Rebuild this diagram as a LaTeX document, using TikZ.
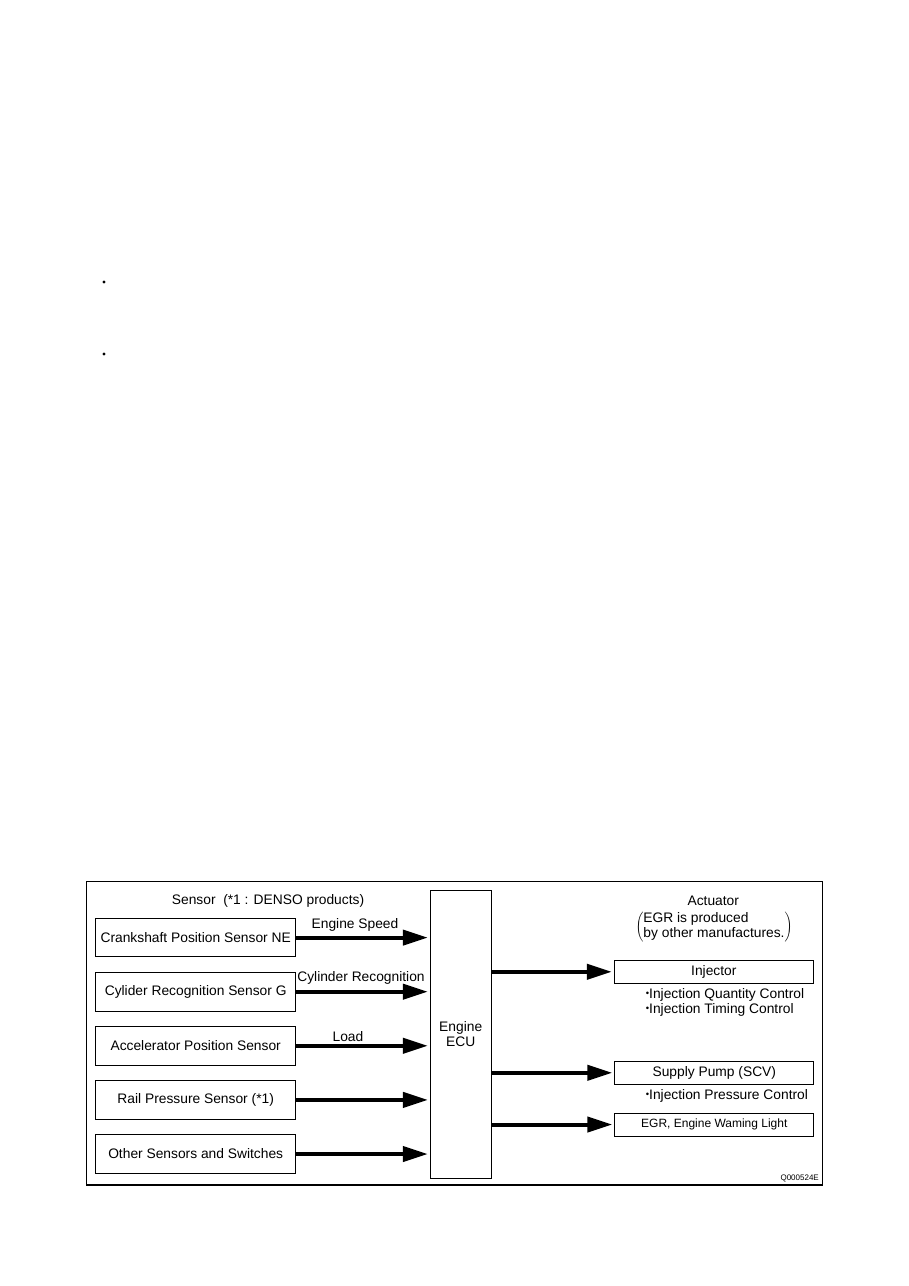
\documentclass[tikz,border=0pt]{standalone}
\usepackage{fontspec}
\setmainfont{Liberation Sans}
\usetikzlibrary{positioning, arrows.meta}

\newcommand{\bul}{\raisebox{1.8pt}{\fontsize{9.5}{9.5}\selectfont •}}

\begin{document}
\begin{tikzpicture}[
            x=1pt, y=-1pt,
            font=\fontsize{13.8}{15}\selectfont,
            node distance=14.6pt,
            sensor/.style={rectangle, draw, line width=0.9pt, minimum width=200pt, minimum height=38.6pt, inner sep=2pt, align=center},
            actor/.style={rectangle, draw, line width=0.9pt, minimum width=199pt, minimum height=23pt, inner sep=2pt, align=center},
            arrow/.style={-{Triangle[length=25pt, width=15pt]}, line width=4pt, shorten >=2pt}
        ]
        \useasboundingbox (0,0) rectangle (909,1286);
        \fill (104,282) circle (1.6pt);
        \fill (104,354) circle (1.6pt);
        \draw[line width=1.1pt] (86.5,881.5) rectangle (822.5,1185);
        % sensors
        \node (sensorhead) at (268,900.5) {Sensor\ \ (*1 : DENSO products)};
        \node[sensor] (crank) at (195.7,937.6) {Crankshaft Position Sensor NE};
        \node[sensor, below=of crank] (cyl) {Cylider Recognition Sensor G};
        \node[sensor, below=of cyl] (accel) {Accelerator Position Sensor};
        \node[sensor, below=of accel] (rail) {Rail Pressure Sensor (*1)};
        \node[sensor, below=of rail] (other) {Other Sensors and Switches};
        % ecu
        \node[rectangle, draw, line width=0.9pt, minimum width=60.7pt, minimum height=288pt, align=center] (ecu) at (460.7,1034.3) {Engine\\ECU};
        \draw[arrow] (crank.east) -- (crank.east -| ecu.west);
        \draw[arrow] (cyl.east) -- (cyl.east -| ecu.west);
        \draw[arrow] (accel.east) -- (accel.east -| ecu.west);
        \draw[arrow] (rail.east) -- (rail.east -| ecu.west);
        \draw[arrow] (other.east) -- (other.east -| ecu.west);
        \node (speed) at (355,924.5) {Engine Speed};
        \node (cylrec) at (361,977.5) {Cylinder Recognition};
        \node (load) at (348,1036.5) {Load};
        % actuators
        \node (acthead) at (713.3,900.5) {Actuator};
        \node[inner sep=0] (note) at (714,927) {$\left(\fontsize{13.8}{14}\selectfont\begin{tabular}{@{}l@{}}EGR is produced\\by other manufactures.\end{tabular}\right)$};
        \node[actor] (inj) at (713.8,971.8) {Injector};
        \node[actor] (pump) at (714.3,1072.8) {Supply Pump (SCV)};
        \node[actor, font=\fontsize{12}{14}\selectfont] (egr) at (714.3,1124.5) {EGR, Engine Waming Light};
        \node[anchor=west, align=left, inner sep=0] (injctl) at (645.7,1002) {\bul Injection Quantity Control\\\bul Injection Timing Control};
        \node[anchor=west, inner sep=0] (pumpctl) at (645.7,1096) {\bul Injection Pressure Control};
        \draw[arrow] (ecu.east |- inj.west) -- (inj.west);
        \draw[arrow] (ecu.east |- pump.west) -- (pump.west);
        \draw[arrow] (ecu.east |- egr.west) -- (egr.west);
        \node[anchor=east, inner sep=0, font=\fontsize{8}{9}\selectfont] (code) at (819,1178.5) {Q000524E};
        \end{tikzpicture}
\end{document}
